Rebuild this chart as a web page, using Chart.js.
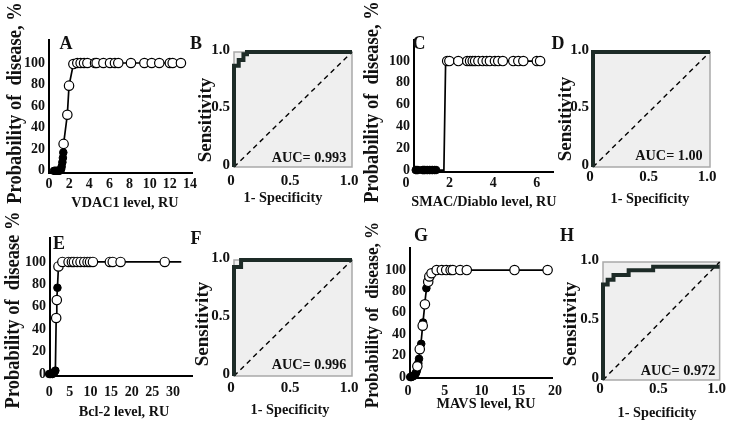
<!DOCTYPE html>
<html><head><meta charset="utf-8">
<script src="https://cdn.jsdelivr.net/npm/chart.js@4.4.1/dist/chart.umd.min.js"></script>
<style>
html,body{margin:0;padding:0;background:#fff}
body{width:729px;height:422px;position:relative;overflow:hidden;font-family:'Liberation Serif','Times New Roman',serif}
canvas{position:absolute;left:0;top:0}
.t{position:absolute;font-weight:bold;white-space:nowrap;line-height:1;color:#111}
</style></head><body>
<script>
// ---------- DATA ----------
// Panel A: VDAC1
const aNegX = [0.5,0.6,0.7,0.8,0.9,1.0,1.1,1.2,1.26,1.33,1.38,1.42];
const aNegY = [0,0,0,0,0,0,0.5,1.5,4,8,12,17];
const aPosX = [1.45,1.82,1.99,2.42,2.81,3.14,3.48,3.81,4.57,4.73,5.4,6.06,6.55,6.88,8.14,9.47,10.2,10.95,12.0,12.28,13.1];
const aPosY = [25,52,79,99,100,100,100,100,100,100,100,100,100,100,100,100,100,100,100,100,100];
const aFitX = [0.5,1.0,1.1,1.2,1.26,1.33,1.38,1.42,1.45,1.82,1.99,2.42,2.7,13.1];
const aFitY = [0,0,0.5,1.5,4,8,12,17,25,52,79,99,100,100];
// Panel C: SMAC/Diablo
const cNegX = [0.45,0.5,0.55,0.75,0.8,0.85,0.92,1.0,1.08,1.15,1.22,1.3,1.38];
const cNegY = [0,0,0,0,0,0,0,0,0,0,0,0,0];
const cPosX = [1.89,1.99,2.4,2.81,2.94,3.06,3.17,3.32,3.52,3.70,3.85,4.08,4.23,4.44,4.92,5.15,5.38,6.0,6.15];
const cPosY = [100,100,100,100,100,100,100,100,100,100,100,100,100,100,100,100,100,100,100];
const cFitX = [0.45,1.74,1.82,6.15];
const cFitY = [0,0,100,100];
// Panel E: Bcl-2
const eNegX = [0,0.4,0.8,1.1,1.3,1.5,2.0];
const eNegY = [0,0,0,1,2,3,77];
const ePosX = [1.7,1.85,2.25,3.2,4.7,5.5,6.0,6.8,7.6,8.5,9.3,9.9,10.6,14.7,15.4,17.3,28.0];
const ePosY = [50,66,96,100,100,100,100,100,100,100,100,100,100,100,100,100,100];
const eFitX = [0,0.8,1.1,1.3,1.5,1.7,1.85,2.0,2.25,3.2,32];
const eFitY = [0,0,1,2,3,50,66,77,96,100,100];
// Panel G: MAVS
const gNegX = [0.3,0.45,0.6,0.75,0.9,1.0,1.1,1.2,1.3,1.4,1.5,1.8,2.05,2.5];
const gNegY = [0,0,0.5,1,2,3,4,6,9,13,17,31,51,83];
const gPosX = [1.27,1.6,2.0,2.3,2.75,2.9,3.2,3.9,4.6,5.2,5.8,6.1,7.1,8.0,14.5,19.0];
const gPosY = [10,26,48,68,89,94,97,100,100,100,100,100,100,100,100,100];
const gFitX = [0.3,0.8,1.0,1.2,1.4,1.6,1.8,2.0,2.2,2.4,2.6,2.8,3.0,3.3,3.7,4.2,19.0];
const gFitY = [0,1.5,3,6,13,24,34,49,62,76,86,91,95,98,99.5,100,100];
// ROC curves
const bRocX = [0,0,0.04,0.04,0.08,0.08,0.11,0.11,1];
const bRocY = [0,0.88,0.88,0.93,0.93,0.98,0.98,1,1];
const dRocX = [0,0,1];
const dRocY = [0,1,1];
const fRocX = [0,0,0.06,0.06,1];
const fRocY = [0,0.94,0.94,1,1];
const hRocX = [0,0,0.04,0.04,0.09,0.09,0.22,0.22,0.43,0.43,1];
const hRocY = [0,0.81,0.81,0.85,0.85,0.89,0.89,0.93,0.93,0.96,0.96];
const diagX = [0,1];
const diagY = [0,1];
// tick labels
const probTicks = [0,20,40,60,80,100];
const probLabels = ['0','20','40','60','80','100'];
const aXTicks = [0,2,4,6,8,10,12,14];
const cXTicks = [0,2,4,6];
const eXTicks = [0,5,10,15,20,25,30];
const gXTicks = [0,5,10,15,20];
const rocTicks = [0,0.5,1];
const rocXLabels = ['0','0.5','1.0'];
const rocYLabels = ['0','0.5','1.0'];
const aucLabels = ['AUC= 0.993','AUC= 1.00','AUC= 0.996','AUC= 0.972'];

// ---------- HELPERS ----------
const FONT = "'Liberation Serif','Times New Roman',serif";
const pts = (xs, ys) => xs.map((x, i) => ({x, y: ys[i]}));

function axis(min, max, vals, labs, size, o) {
  return {
    type: 'linear', min, max,
    grid: {display: false, drawTicks: false},
    border: o.border ? {display: true, color: '#000', width: 2} : {display: false},
    ticks: {autoSkip: false, maxRotation: 0, font: {family: FONT, size: o.fs, weight: 'bold'},
      color: '#111', padding: o.pad, labelOffset: o.off || 0,
      callback: (v, i) => labs[i]},
    afterBuildTicks: a => { a.ticks = vals.map(v => ({value: v})); },
    afterFit: a => { if (a.isHorizontal()) a.height = size; else a.width = size; }
  };
}

function mk(pad, scales, datasets, plugins) {
  const c = document.createElement('canvas');
  c.width = 729; c.height = 422;
  document.body.appendChild(c);
  new Chart(c, {
    type: 'scatter',
    data: {datasets},
    options: {
      responsive: false, animation: false, devicePixelRatio: 1, events: [],
      layout: {padding: pad, autoPadding: false},
      plugins: {legend: {display: false}, tooltip: {enabled: false}},
      scales
    },
    plugins: plugins || []
  });
}

const frame = {id: 'frame', beforeDatasetsDraw(ch) {
  const {ctx, chartArea: a} = ch;
  ctx.save();
  ctx.fillStyle = '#efefef';
  ctx.fillRect(a.left, a.top, a.width, a.height);
  ctx.strokeStyle = '#a9a9a9'; ctx.lineWidth = 1.5;
  ctx.strokeRect(a.left, a.top, a.width, a.height);
  ctx.restore();
}};

function logistic(pad, xr, xt, yr, xpad, neg, pos, fit, smooth) {
  mk(pad, {
    x: axis(xr[0], xr[1], xt, xt.map(String), 30, {border: true, fs: 14, pad: xpad}),
    y: axis(yr[0], yr[1], probTicks, probLabels, 35, {border: true, fs: 14, pad: 4})
  }, [
    {data: pos, pointRadius: 4.7, pointBackgroundColor: '#fff', pointBorderColor: '#000', pointBorderWidth: 1.2, showLine: false, clip: false},
    {data: neg, pointRadius: 3.8, pointBackgroundColor: '#000', pointBorderColor: '#000', pointBorderWidth: 1, showLine: false, clip: false},
    {data: fit, showLine: true, borderColor: '#000', borderWidth: 1.7, pointRadius: 0, fill: false, clip: false,
      cubicInterpolationMode: smooth ? 'monotone' : 'default', tension: 0}
  ]);
}

function roc(pad, xpad, curve) {
  mk(pad, {
    x: axis(0, 1, rocTicks, rocXLabels, 30, {border: false, fs: 15, pad: xpad, off: -3}),
    y: axis(0, 1, rocTicks, rocYLabels, 35, {border: false, fs: 15, pad: 4, off: -2})
  }, [
    {data: curve, showLine: true, borderColor: '#1d2b27', borderWidth: 4, pointRadius: 0, borderJoinStyle: 'miter', borderCapStyle: 'butt', clip: false},
    {data: pts(diagX, diagY), showLine: true, borderColor: '#000', borderWidth: 1.4, borderDash: [5, 4], pointRadius: 0, clip: false}
  ], [frame]);
}

// ---------- CHARTS ----------
logistic({left: 14, right: 537, top: 40, bottom: 219}, [0, 14.2], aXTicks, [-2, 121.3], 3,
  pts(aNegX, aNegY), pts(aPosX, aPosY), pts(aFitX, aFitY), false);
logistic({left: 379, right: 176, top: 40, bottom: 220}, [0.37, 6.74], cXTicks, [-1.8, 119.3], 3,
  pts(cNegX, cNegY), pts(cPosX, cPosY), pts(cFitX, cFitY), false);
logistic({left: 15, right: 537, top: 238, bottom: 16}, [0.2, 34.6], eXTicks, [-1.8, 121.4], 8,
  pts(eNegX, eNegY), pts(ePosX, ePosY), pts(eFitX, eFitY), false);
logistic({left: 375, right: 177, top: 248, bottom: 14}, [0.27, 19.6], gXTicks, [-0.9, 120.6], 5,
  pts(gNegX, gNegY), pts(gPosX, gPosY), pts(gFitX, gFitY), true);

roc({left: 199, right: 377, top: 52, bottom: 225}, 5, pts(bRocX, bRocY));
roc({left: 558, right: 19, top: 52, bottom: 225}, 1, pts(dRocX, dRocY));
roc({left: 199, right: 377, top: 260, bottom: 16}, 3, pts(fRocX, fRocY));
roc({left: 568, right: 9, top: 262, bottom: 12}, 0, pts(hRocX, hRocY));

// ---------- TEXT ----------
function txt(s, x, y, size, rot, k) {
  const d = document.createElement('div');
  d.className = 't';
  d.textContent = s;
  d.style.left = x + 'px'; d.style.top = y + 'px'; d.style.fontSize = size + 'px';
  d.style.transform = 'translate(-50%,-50%)' + (rot ? ' rotate(-90deg)' : '') + ' scaleX(' + (k || 1) + ')';
  document.body.appendChild(d);
}
const probTitle = 'Probability of\u00a0 disease, %';
txt(probTitle, 14, 103, 21, true, 0.88);
txt(probTitle, 371, 102, 21, true, 0.88);
txt('Probability of\u00a0 disease %', 12, 310, 21, true, 0.88);
txt(probTitle, 371, 315, 19, true, 0.9);
txt('Sensitivity', 203.5, 120, 19, true, 1);
txt('Sensitivity', 564, 119, 19, true, 1);
txt('Sensitivity', 201, 324, 19, true, 1);
txt('Sensitivity', 569, 324, 19, true, 1);
txt('VDAC1 level, RU', 124.5, 202, 15, false, 0.95);
txt('1- Specificity', 282.5, 197, 15, false, 0.95);
txt('SMAC/Diablo level, RU', 484, 201, 15, false, 0.95);
txt('1- Specificity', 650, 198, 15, false, 0.95);
txt('Bcl-2 level, RU', 124, 411, 15, false, 0.95);
txt('1- Specificity', 289.5, 409, 15, false, 0.95);
txt('MAVS level, RU', 486, 403, 15, false, 0.95);
txt('1- Specificity', 657, 412, 15, false, 0.95);
txt(aucLabels[0], 309, 157, 15, false, 0.95);
txt(aucLabels[1], 669, 155, 15, false, 0.95);
txt(aucLabels[2], 309, 364, 15, false, 0.95);
txt(aucLabels[3], 678, 370, 15, false, 0.95);
[['A',66,43],['B',196,43],['C',419,43],['D',558,43],['E',59,243],['F',196,238],['G',421,235],['H',567,235]]
  .forEach(([s, x, y]) => txt(s, x, y, 18, false, 1));
</script>
</body></html>
